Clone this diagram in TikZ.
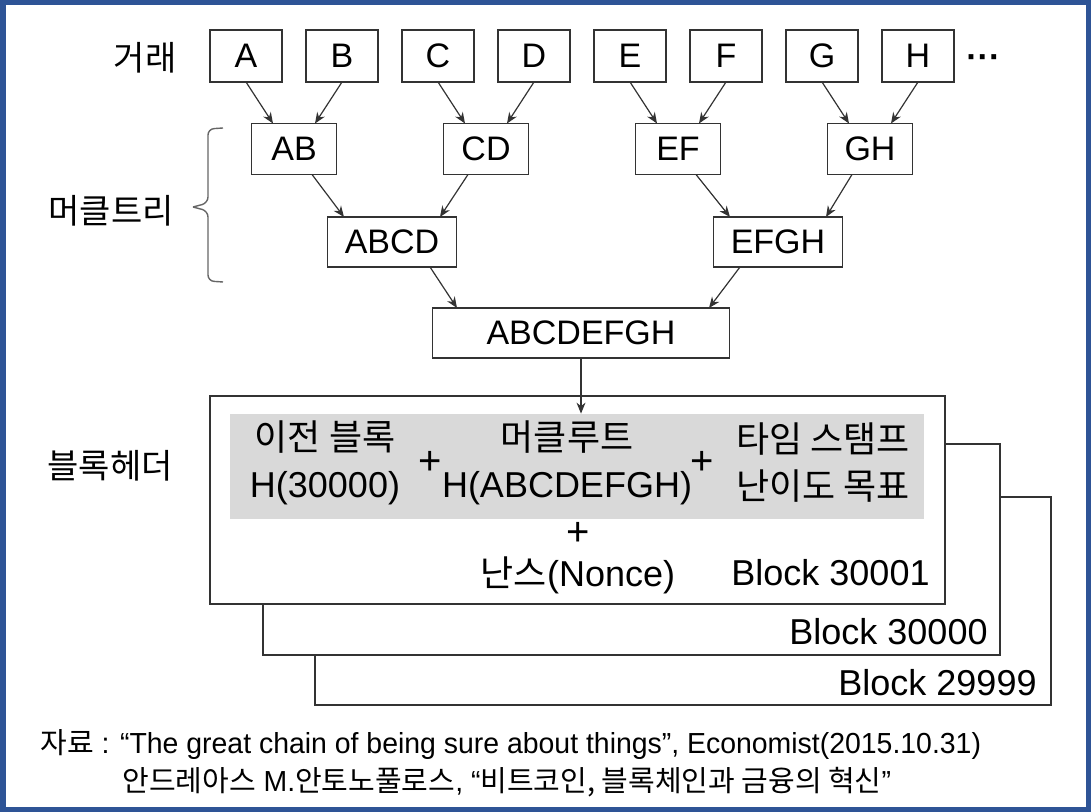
\documentclass[tikz,border=0pt]{standalone}
\usepackage{fontspec}
\setmainfont{Liberation Sans}
\newfontfamily\kr{Noto Sans CJK KR}
\newfontfamily\capfont{Liberation Sans}[FakeStretch=0.98]
\newfontfamily\capkr{Noto Sans CJK KR}
\usetikzlibrary{arrows.meta,positioning}
\definecolor{frameblue}{RGB}{46,84,150}
\definecolor{hdrgray}{RGB}{217,217,217}
\tikzset{
  txbox/.style={rectangle, draw=black!80, line width=0.9pt, fill=white, outer sep=0pt,
    minimum width=36pt, minimum height=26pt, inner sep=0pt, font=\fontsize{17}{20}\selectfont},
  hashbox/.style={txbox, minimum width=42.5pt, minimum height=25.5pt},
  midbox/.style={txbox, minimum width=64.5pt, minimum height=25pt},
  rootbox/.style={txbox, minimum width=148.5pt, minimum height=25pt},
  blockbox/.style={rectangle, draw=black!80, line width=0.9pt, fill=white, inner sep=0pt, outer sep=0pt},
  rowlabel/.style={font=\fontsize{17}{20}\selectfont\kr, inner sep=0pt},
  hdrtext/.style={align=center, inner sep=0pt, font=\fontsize{18}{23.5}\selectfont},
  plussign/.style={inner sep=0pt, font=\fontsize{20}{24}\selectfont},
  hasharrow/.style={-{Stealth[length=5.5pt,width=4.5pt]}, draw=black!80, line width=0.6pt},
}

\begin{document}
\begin{tikzpicture}[x=0.5pt, y=-0.5pt,
    mbrace/.style={draw=black!60, line width=0.7pt, rounded corners=3pt},
    captext/.style={anchor=west, inner sep=0pt, font=\fontsize{14.5}{17}\selectfont\capfont}]
  \useasboundingbox (0,0) rectangle (1091,812);

  % Blue frame
  \draw[frameblue, line width=2.75pt] (2.75,2.75) rectangle (1088.25,809.25);

  % Transactions (top row)
  \node[rowlabel] (txlabel) at (145,58) {거래};
  \node[txbox] (a) at (246,56) {A};
  \node[txbox, right=12pt of a] (b) {B};
  \node[txbox, right=12pt of b] (c) {C};
  \node[txbox, right=12pt of c] (d) {D};
  \node[txbox, right=12pt of d] (e) {E};
  \node[txbox, right=12pt of e] (f) {F};
  \node[txbox, right=12pt of f] (g) {G};
  \node[txbox, right=12pt of g] (h) {H};
  \node[font=\fontsize{17}{20}\selectfont\bfseries, right=6pt of h, yshift=-3pt, inner sep=0pt] (more) {···};

  % Merkle tree
  \node[hashbox] (ab) at (294,149) {AB};
  \node[hashbox, right=53.5pt of ab] (cd) {CD};
  \node[hashbox, right=53.5pt of cd] (ef) {EF};
  \node[hashbox, right=53.5pt of ef] (gh) {GH};
  \node[midbox] (abcd) at (392,242) {ABCD};
  \node[midbox, right=128.5pt of abcd] (efgh) {EFGH};
  \node[rootbox] (root) at (581,333) {ABCDEFGH};
  \node[rowlabel] (treelabel) at (111,211) {머클트리};
  \coordinate (brtop) at (223,128);
  \coordinate (brtip) at (193,207);
  \coordinate (brbot) at (223,282);
  \draw[mbrace] (brtop) -- (208,129) -- (208,203) -- (brtip);
  \draw[mbrace] (brtip) -- (208,211) -- (208,281) -- (brbot);

  % Arrows: leaves to pairs
  \draw[hasharrow] (a.south) -- ([xshift=-10.5pt]ab.north);
  \draw[hasharrow] (b.south) -- ([xshift=10.5pt]ab.north);
  \draw[hasharrow] (c.south) -- ([xshift=-10.5pt]cd.north);
  \draw[hasharrow] (d.south) -- ([xshift=10.5pt]cd.north);
  \draw[hasharrow] (e.south) -- ([xshift=-10.5pt]ef.north);
  \draw[hasharrow] (f.south) -- ([xshift=10.5pt]ef.north);
  \draw[hasharrow] (g.south) -- ([xshift=-10.5pt]gh.north);
  \draw[hasharrow] (h.south) -- ([xshift=10.5pt]gh.north);

  % Arrows: pairs to root
  \draw[hasharrow] ([xshift=9pt]ab.south) -- ([xshift=-24pt]abcd.north);
  \draw[hasharrow] ([xshift=-9pt]cd.south) -- ([xshift=24pt]abcd.north);
  \draw[hasharrow] ([xshift=9pt]ef.south) -- ([xshift=-24pt]efgh.north);
  \draw[hasharrow] ([xshift=-9pt]gh.south) -- ([xshift=24pt]efgh.north);
  \draw[hasharrow] ([xshift=19pt]abcd.south) -- ([xshift=-62pt]root.north);
  \draw[hasharrow] ([xshift=-19pt]efgh.south) -- ([xshift=64pt]root.north);

  % Block stack (back to front)
  \node[blockbox, minimum width=368pt, minimum height=104pt] (blk3) at (683,601) {};
  \node[blockbox, minimum width=368.5pt, minimum height=105.5pt] (blk2) at (631.5,549.5) {};
  \node[blockbox, minimum width=367.5pt, minimum height=104pt] (blk1) at (577.5,500) {};
  \node[fill=hdrgray, minimum width=347pt, minimum height=52.5pt, inner sep=0pt] (hdr) at (577,466.5) {};
  \node[rowlabel] (hdrlabel) at (110,466) {블록헤더};

  % Header fields
  \node[hdrtext] (prev) at (325,463) {{\kr 이전 블록}\\H(30000)};
  \node[plussign] (plusa) at (430,463) {+};
  \node[hdrtext] (mroot) at (567,463) {{\kr 머클루트}\\H(ABCDEFGH)};
  \node[plussign] (plusb) at (702,463) {+};
  \node[hdrtext] (tstamp) at (823,463) {{\kr 타임 스탬프}\\{\kr 난이도 목표}};
  \node[plussign] (plusc) at (578,534) {+};
  \node[hdrtext] (nonce) at (578,575) {{\kr 난스}(Nonce)};

  % Block numbers
  \node[hdrtext, anchor=east] (n1) at ([shift={(-7.5pt,15.5pt)}]blk1.south east) {Block 30001};
  \node[hdrtext, anchor=east] (n2) at ([shift={(-6pt,11.5pt)}]blk2.south east) {Block 30000};
  \node[hdrtext, anchor=east] (n3) at ([shift={(-7pt,11pt)}]blk3.south east) {Block 29999};

  \draw[hasharrow] (root.south) -- (root.south |- hdr.north);

  % Source
  \node[captext] (src1) at (40,745) {{\capkr 자료} : “The great chain of being sure about things”, Economist(2015.10.31)};
  \node[captext] (src2) at (122,782) {{\capkr 안드레아스} M.{\capkr 안토노풀로스}, “{\capkr 비트코인, 블록체인과 금융의 혁신}”};

\end{tikzpicture}
\end{document}
